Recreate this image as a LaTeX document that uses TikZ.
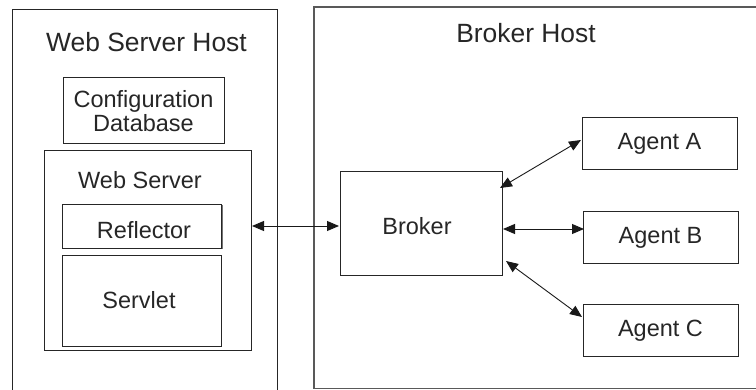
\documentclass[tikz,border=0pt]{standalone}
\usepackage{fontspec}
\setmainfont{Liberation Sans}
\usetikzlibrary{arrows.meta}
\begin{document}
\begin{tikzpicture}[x=1pt,y=-1pt,
  box/.style={draw=black!85,line width=1pt},
  hostbox/.style={draw=black!65,line width=1.2pt},
  title/.style={font=\fontsize{26.4}{30}\selectfont,text=black!85},
  lbl/.style={font=\fontsize{23.5}{27}\selectfont,text=black!85},
  link/.style={line width=0.9pt,draw=black!90,{Triangle[length=12pt,width=10pt]}-{Triangle[length=12pt,width=10pt]}}]
\useasboundingbox (0,0) rectangle (756,390);
\begin{scope}
\clip (0,0) rectangle (756,390);
% hosts
\draw[box] (12,10) rectangle (277,400);
\draw[hostbox] (314,7) rectangle (770,388.5);
\end{scope}
\node[title] (wsh) at (146.5,42) {Web Server Host};
\node[title] (bh) at (526,33) {Broker Host};
% web server side
\draw[box] (63,78) rectangle (224,144);
\node[lbl,align=center] (cfg) at (143.5,111) {Configuration\\[-3pt]Database};
\draw[box] (44,151) rectangle (251,351);
\node[lbl] (wst) at (140,180) {Web Server};
\draw[box] (62,205) rectangle (221.5,249);
\draw[line width=1pt,draw=black!55] (222.8,205) -- (222.8,249);
\node[lbl] (refl) at (144,230) {Reflector};
\draw[box] (62,256) rectangle (221,347);
\node[lbl] (serv) at (139,300) {Servlet};
% broker side
\node[box,minimum width=162pt,minimum height=104pt,inner sep=0pt] (broker) at (421,224) {};
\node[lbl] at (417,226) {Broker};
\node[box,minimum width=155pt,minimum height=52pt,inner sep=0pt,lbl] (aa) at (659.5,144) {Agent A};
\node[box,minimum width=155pt,minimum height=52pt,inner sep=0pt,lbl] (ab) at (660.5,238) {Agent B};
\node[box,minimum width=155pt,minimum height=52pt,inner sep=0pt,lbl] (ac) at (660.5,331) {Agent C};
% connectors
\coordinate (wsr) at (252,226);
\coordinate (brl) at (339,226);
\draw[link] (wsr) -- (brl);
\draw[link] (500,188) -- (581,140);
\draw[link] (503,229) -- (584,229);
\draw[link] (506,261) -- (582,317);
\end{tikzpicture}
\end{document}
